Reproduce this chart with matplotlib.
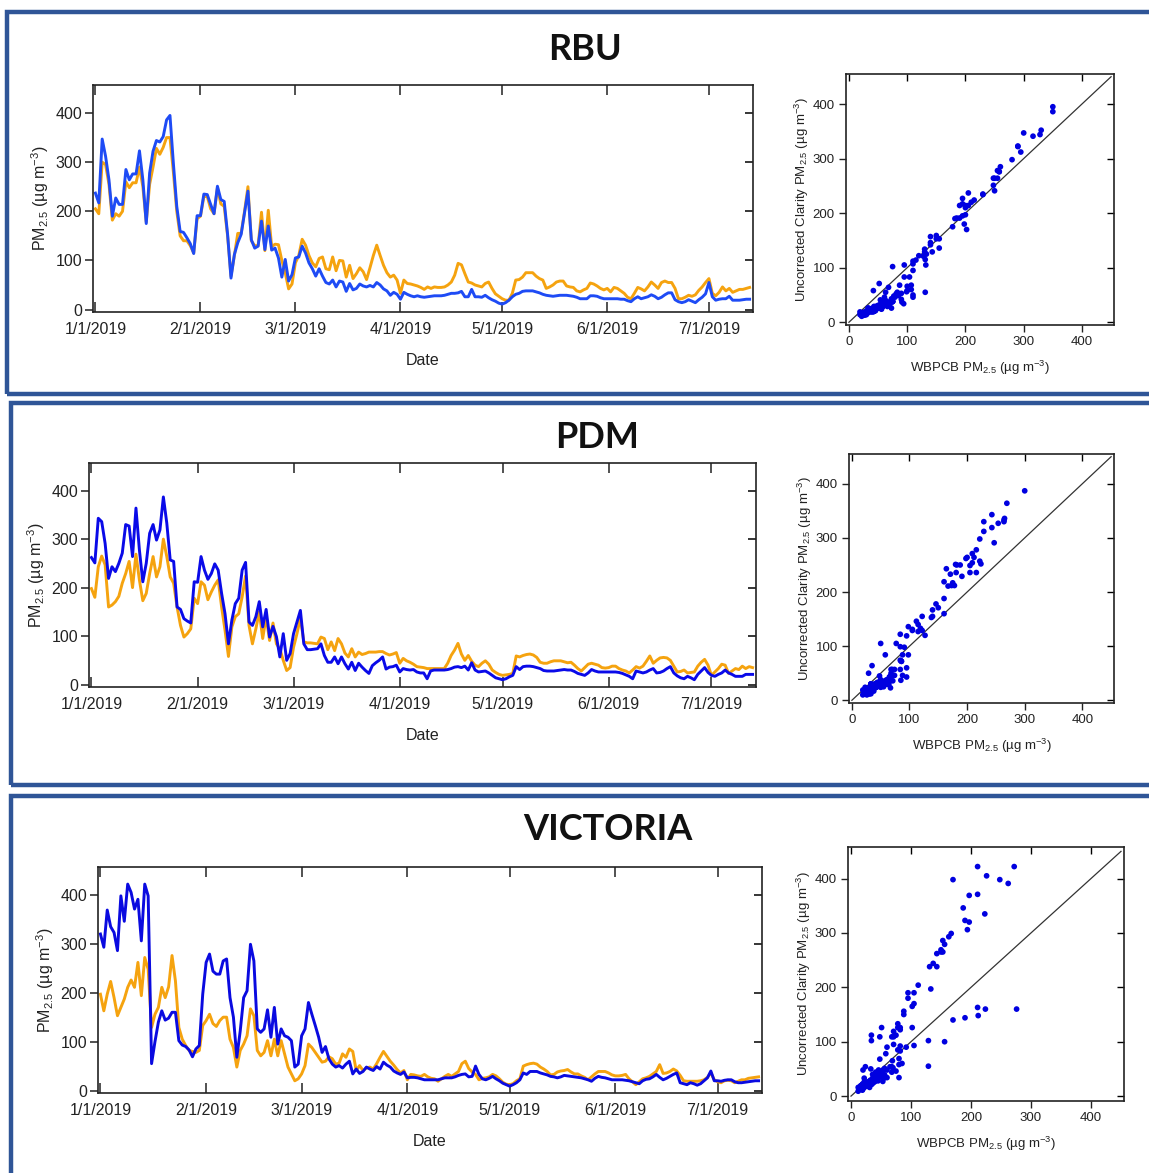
import numpy as np
import pandas as pd
import matplotlib
matplotlib.use("Agg")
from matplotlib import pyplot as plt
import matplotlib.dates as mdates
from matplotlib.ticker import FuncFormatter
from matplotlib.patches import Rectangle

# daily PM2.5, 1 Jan 2019 .. 13 Jul 2019 (ug m-3)
# clarity = uncorrected Clarity sensor (blue), wbpcb = WBPCB monitor (orange)
rbu_clarity = [
    237, 217, 347, 312, 264, 190, 227, 214, 214, 285,
    264, 276, 276, 323, 264, 175, 278, 322, 344, 341,
    352, 386, 395, 298, 210, 159, 157, 146, 134, 114,
    191, 191, 235, 234, 214, 195, 251, 224, 220, 153,
    64, 112, 136, 153, 197, 241, 142, 125, 129, 180,
    122, 170, 121, 125, 105, 66, 102, 58, 71, 105,
    107, 129, 115, 95, 83, 68, 83, 68, 55, 52,
    60, 46, 58, 56, 37, 53, 40, 43, 52, 48,
    46, 49, 46, 55, 50, 42, 38, 29, 35, 31,
    21, 35, 31, 28, 26, 28, 26, 25, 26, 27,
    28, 28, 28, 29, 31, 33, 33, 34, 37, 26,
    26, 41, 26, 26, 25, 29, 24, 20, 17, 13,
    11, 14, 19, 26, 31, 33, 37, 38, 38, 38,
    36, 34, 31, 29, 28, 27, 28, 29, 29, 29,
    28, 27, 25, 22, 22, 22, 28, 28, 27, 24,
    22, 22, 22, 22, 22, 21, 21, 18, 16, 22,
    26, 22, 24, 26, 30, 27, 22, 25, 30, 34,
    34, 20, 16, 14, 16, 20, 17, 14, 20, 25,
    32, 55, 26, 19, 21, 22, 22, 27, 19, 19,
    19, 20, 21, 21]
rbu_wbpcb = [
    205, 195, 300, 295, 255, 182, 195, 190, 200, 260,
    248, 258, 258, 290, 250, 178, 255, 290, 328, 316,
    330, 350, 350, 280, 200, 150, 140, 140, 130, 115,
    185, 190, 230, 230, 205, 195, 248, 215, 210, 150,
    68, 110, 155, 155, 200, 250, 140, 130, 130, 198,
    120, 202, 128, 133, 132, 100, 75, 42, 52, 95,
    110, 143, 131, 110, 95, 87, 104, 107, 83, 81,
    107, 79, 100, 99, 66, 90, 63, 73, 85, 77,
    61, 85, 110, 131, 110, 90, 75, 66, 70, 60,
    33, 60, 53, 52, 50, 48, 45, 41, 46, 43,
    46, 45, 45, 46, 50, 56, 70, 94, 91, 73,
    56, 54, 50, 48, 46, 53, 56, 43, 32, 27,
    22, 19, 19, 33, 60, 61, 66, 75, 75, 75,
    68, 63, 60, 43, 46, 50, 56, 58, 58, 48,
    46, 45, 38, 36, 40, 43, 54, 52, 48, 43,
    40, 43, 36, 45, 43, 38, 33, 25, 22, 33,
    45, 42, 38, 46, 56, 50, 43, 55, 58, 55,
    55, 43, 22, 22, 25, 29, 27, 30, 39, 46,
    55, 63, 33, 28, 35, 46, 38, 43, 35, 38,
    41, 41, 43, 45]

pdm_clarity = [
    262, 251, 343, 336, 291, 219, 243, 233, 250, 271,
    330, 327, 264, 364, 278, 212, 250, 312, 330, 298,
    319, 387, 333, 257, 254, 160, 155, 136, 131, 127,
    212, 211, 264, 236, 217, 229, 249, 236, 188, 146,
    84, 133, 167, 178, 236, 252, 129, 122, 140, 171,
    119, 155, 98, 120, 99, 57, 105, 50, 64, 105,
    129, 153, 84, 72, 72, 73, 74, 84, 60, 46,
    46, 57, 43, 57, 43, 32, 46, 29, 44, 36,
    29, 23, 39, 45, 50, 57, 32, 36, 37, 40,
    26, 33, 31, 30, 31, 26, 24, 24, 12, 28,
    30, 30, 30, 30, 31, 33, 36, 37, 35, 38,
    30, 45, 30, 26, 27, 28, 24, 19, 14, 12,
    10, 12, 16, 19, 37, 31, 37, 38, 38, 37,
    35, 33, 29, 28, 28, 28, 29, 30, 31, 30,
    30, 27, 23, 21, 19, 24, 31, 28, 26, 26,
    26, 26, 26, 26, 25, 23, 20, 17, 12, 28,
    26, 24, 26, 30, 33, 24, 25, 28, 33, 37,
    24, 18, 14, 12, 17, 14, 10, 21, 28, 35,
    25, 19, 17, 21, 24, 30, 24, 21, 17, 17,
    17, 21, 21, 21]
pdm_wbpcb = [
    198, 180, 243, 265, 247, 160, 164, 171, 182, 209,
    229, 254, 200, 269, 216, 173, 188, 229, 264, 222,
    243, 300, 264, 222, 209, 160, 122, 98, 105, 115,
    178, 167, 212, 205, 175, 191, 205, 216, 160, 112,
    58, 119, 140, 146, 181, 224, 122, 84, 115, 150,
    95, 140, 91, 127, 84, 74, 50, 29, 35, 77,
    105, 138, 88, 86, 86, 85, 84, 98, 95, 72,
    88, 70, 95, 84, 65, 57, 74, 57, 67, 62,
    64, 67, 67, 67, 68, 68, 64, 61, 63, 66,
    44, 54, 49, 46, 42, 37, 36, 35, 33, 33,
    33, 33, 33, 33, 44, 60, 71, 85, 63, 50,
    60, 48, 40, 37, 44, 49, 42, 30, 25, 21,
    19, 20, 21, 23, 59, 57, 60, 62, 63, 61,
    56, 46, 44, 44, 47, 49, 49, 49, 47, 45,
    46, 40, 33, 28, 35, 42, 44, 42, 40, 35,
    34, 35, 38, 38, 33, 30, 28, 24, 30, 37,
    34, 38, 48, 59, 44, 50, 55, 56, 55, 50,
    38, 26, 27, 30, 24, 25, 26, 38, 46, 52,
    40, 19, 26, 33, 42, 40, 23, 28, 33, 31,
    38, 33, 37, 35]

vic_clarity = [
    320, 293, 369, 335, 323, 286, 398, 346, 422, 405,
    371, 391, 306, 422, 398, 55, 100, 140, 163, 144,
    148, 160, 160, 102, 93, 90, 83, 69, 85, 92,
    197, 262, 279, 244, 238, 238, 265, 269, 190, 150,
    68, 122, 190, 204, 299, 265, 126, 119, 126, 165,
    109, 170, 95, 126, 112, 109, 102, 48, 54, 112,
    126, 180, 156, 133, 109, 78, 90, 65, 54, 48,
    51, 46, 54, 60, 34, 44, 35, 39, 48, 44,
    41, 49, 44, 58, 52, 48, 40, 36, 33, 38,
    26, 27, 27, 26, 24, 22, 22, 22, 22, 22,
    24, 26, 26, 26, 28, 31, 33, 34, 28, 29,
    50, 33, 24, 22, 25, 29, 24, 20, 15, 12,
    9, 12, 16, 22, 36, 33, 39, 39, 39, 36,
    34, 32, 29, 28, 26, 28, 31, 30, 29, 28,
    27, 26, 24, 22, 19, 25, 29, 27, 26, 24,
    22, 22, 22, 22, 21, 20, 18, 16, 14, 20,
    23, 24, 28, 33, 27, 22, 25, 29, 33, 36,
    16, 14, 12, 16, 14, 11, 14, 20, 26, 40,
    20, 20, 19, 21, 22, 22, 18, 16, 16, 17,
    18, 19, 20, 20]
vic_wbpcb = [
    197, 163, 197, 223, 190, 153, 170, 187, 211, 226,
    211, 262, 194, 272, 248, 129, 156, 170, 211, 190,
    212, 276, 224, 129, 105, 92, 82, 80, 78, 82,
    133, 143, 156, 137, 131, 143, 150, 150, 105, 88,
    48, 82, 95, 112, 167, 153, 82, 71, 78, 102,
    71, 105, 71, 102, 75, 48, 34, 20, 24, 34,
    51, 95, 88, 78, 68, 58, 60, 69, 65, 54,
    56, 75, 68, 85, 80, 41, 51, 41, 46, 48,
    44, 55, 68, 80, 70, 60, 52, 43, 36, 41,
    22, 33, 32, 30, 29, 33, 28, 25, 24, 19,
    24, 29, 33, 29, 34, 39, 55, 60, 45, 38,
    33, 22, 25, 26, 28, 33, 30, 24, 17, 13,
    12, 14, 20, 24, 50, 53, 55, 56, 54, 48,
    44, 39, 32, 33, 38, 40, 41, 43, 38, 34,
    34, 30, 27, 22, 28, 34, 39, 39, 39, 36,
    32, 30, 30, 31, 33, 24, 18, 12, 18, 24,
    26, 29, 34, 39, 53, 35, 36, 39, 44, 40,
    31, 20, 19, 19, 19, 19, 20, 22, 27, 36,
    22, 18, 16, 20, 21, 20, 16, 19, 22, 22,
    25, 26, 27, 28]

sites = ["RBU", "PDM", "VICTORIA"]
pm_ticks = [0, 100, 200, 300, 400]

start = pd.Timestamp("2019-01-01")
dates = pd.date_range(start, periods=len(rbu_clarity), freq="D")

plt.rcParams["font.family"] = ["Liberation Sans", "DejaVu Sans"]
plt.rcParams["mathtext.default"] = "regular"

W, H = 1149, 1173
fig = plt.figure(figsize=(W / 100, H / 100), dpi=100)

orange = "#F5A30F"
frame_col = "#2F5597"
ink = "#222222"

ylab_ts = "PM$_{2.5}$ (µg m$^{-3}$)"
ylab_sc = "Uncorrected Clarity PM$_{2.5}$ (µg m$^{-3}$)"
xlab_sc = "WBPCB PM$_{2.5}$ (µg m$^{-3}$)"


def box(x0, y0, x1, y1):
	# pixel box (top-left origin) -> figure fraction rect
	return [x0 / W, 1 - y1 / H, (x1 - x0) / W, (y1 - y0) / H]


def style_spines(ax):
	for s in ax.spines.values():
		s.set_linewidth(1.2)
		s.set_color(ink)


def date_fmt(v, pos):
	d = mdates.num2date(v)
	return f"{d.month}/{d.day}/{d.year}"


def ts_panel(rect, clarity, wbpcb, blue):
	ax = fig.add_axes(box(*rect))
	ax.plot(dates, wbpcb, color=orange, lw=2.1)
	ax.plot(dates, clarity, color=blue, lw=2.1)
	ax.set_xlim(start - pd.Timedelta(hours=17), start + pd.Timedelta(days=194))
	ax.set_ylim(-5, 457)
	ax.xaxis.set_major_locator(mdates.MonthLocator())
	ax.xaxis.set_major_formatter(FuncFormatter(date_fmt))
	ax.set_yticks(pm_ticks)
	ax.tick_params(axis="x", direction="in", top=True, length=7, width=1.1,
				   labelsize=11.5, pad=7, colors=ink)
	ax.tick_params(axis="y", direction="out", length=6, width=1.1,
				   labelsize=11.5, pad=2, colors=ink)
	sec = ax.secondary_yaxis("right")
	sec.set_yticks(pm_ticks)
	sec.tick_params(direction="in", length=6, width=1.1, labelright=False)
	sec.spines["right"].set_visible(False)
	style_spines(ax)
	ax.set_xlabel("Date", fontsize=11.5, labelpad=11.5, color=ink)
	ax.set_ylabel(ylab_ts, fontsize=11.5, labelpad=3, color=ink)
	return ax


def scatter_panel(rect, clarity, wbpcb, ylim):
	ax = fig.add_axes(box(*rect))
	ax.scatter(wbpcb, clarity, s=17, color="#0000E0", edgecolors="none", zorder=3)
	ax.plot([0, 450], [0, 450], color="#333333", lw=0.9)
	ax.set_xlim(-5, 455)
	ax.set_ylim(*ylim)
	ax.set_xticks(pm_ticks)
	ax.set_yticks(pm_ticks)
	ax.tick_params(direction="out", length=5, width=1.0, labelsize=9.5, pad=3, colors=ink)
	top = ax.secondary_xaxis("top")
	top.set_xticks(pm_ticks)
	top.tick_params(direction="in", length=5, width=1.0, labeltop=False)
	top.spines["top"].set_visible(False)
	right = ax.secondary_yaxis("right")
	right.set_yticks(pm_ticks)
	right.tick_params(direction="in", length=5, width=1.0, labelright=False)
	right.spines["right"].set_visible(False)
	style_spines(ax)
	ax.set_xlabel(xlab_sc, fontsize=9.5, labelpad=8, color=ink)
	ax.set_ylabel(ylab_sc, fontsize=9.5, labelpad=1.5, color=ink)
	return ax


# blue frames round each site
for (x0, y0, y1) in [(7, 12, 394), (11, 403, 785), (11, 796, 1200)]:
	fig.patches.append(Rectangle((x0 / W, 1 - y1 / H), (1250 - x0) / W, (y1 - y0) / H,
								 transform=fig.transFigure, fill=False,
								 edgecolor=frame_col, lw=3.2))

ts_panel((93, 85, 753, 312), rbu_clarity, rbu_wbpcb, "#1E4BF5")
scatter_panel((846, 74, 1114, 325), rbu_clarity, rbu_wbpcb, (-5, 455))

ts_panel((89, 463, 756, 687), pdm_clarity, pdm_wbpcb, "#0A0AE8")
scatter_panel((849, 454, 1114, 703), pdm_clarity, pdm_wbpcb, (-5, 455))

ts_panel((98, 867, 762, 1093), vic_clarity, vic_wbpcb, "#0A0AE0")
scatter_panel((848, 847, 1124, 1101), vic_clarity, vic_wbpcb, (-9, 458))

for name, (tx, ty) in zip(sites, [(585, 50), (597, 437), (608, 829)]):
	fig.text(tx / W, 1 - ty / H, name, ha="center", va="center",
			 fontsize=26, fontweight="bold", family=["Lato", "DejaVu Sans"], color="#111111")

fig.savefig("out.png", dpi=100, facecolor="white")
